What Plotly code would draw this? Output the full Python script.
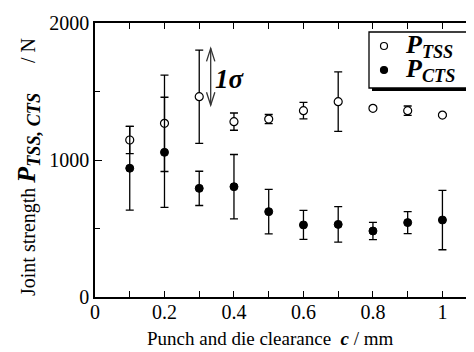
import plotly.graph_objects as go

clearance = [0.1, 0.2, 0.3, 0.4, 0.5, 0.6, 0.7, 0.8, 0.9, 1.0]
p_tss = [1146, 1268, 1462, 1280, 1299, 1360, 1426, 1377, 1360, 1328]
p_tss_sd = [100, 352, 340, 63, 33, 60, 217, 15, 34, 10]
p_cts = [940, 1056, 793, 805, 623, 526, 530, 482, 543, 562]
p_cts_sd = [306, 402, 125, 235, 162, 106, 130, 63, 80, 217]

series_names = ["TSS", "CTS"]
x_ticks = [0, 0.2, 0.4, 0.6, 0.8, 1]
x_ticklabels = ["0", "0.2", "0.4", "0.6", "0.8", "1"]
y_ticks = [0, 1000, 2000]

FONT = "Liberation Serif, Times New Roman, serif"
OFF = 8  # default page body margin
W, H = 474 - OFF, 352 - OFF
L, R, T, B = 95 - OFF, 1, 23 - OFF, 55
pw, ph = W - L - R, H - T - B

def px_x(p):
    return (p - OFF - L) / pw

def px_y(p):
    return (H - B - (p - OFF)) / ph

fig = go.Figure()

fig.add_trace(go.Scatter(
    x=clearance, y=p_tss, mode="markers", name=series_names[0],
    marker=dict(symbol="circle", size=8, color="white", line=dict(color="black", width=1.2)),
    error_y=dict(type="data", array=p_tss_sd, visible=True, color="black", thickness=1.3, width=4),
))
fig.add_trace(go.Scatter(
    x=clearance, y=p_cts, mode="markers", name=series_names[1],
    marker=dict(symbol="circle", size=8, color="black", line=dict(color="black", width=1)),
    error_y=dict(type="data", array=p_cts_sd, visible=True, color="black", thickness=1.3, width=4),
))
fig.add_trace(go.Scatter(x=[None], y=[None], yaxis="y2", showlegend=False))

axis_common = dict(showgrid=False, zeroline=False, showline=True, linecolor="black",
                   linewidth=1.5, ticks="inside", tickcolor="black", tickwidth=1.2,
                   tickfont=dict(family=FONT, size=20, color="black"))

fig.update_layout(
    width=W, height=H,
    margin=dict(l=L, r=R, t=T, b=B, pad=0),
    paper_bgcolor="white", plot_bgcolor="white",
    font=dict(family=FONT, color="black"),
    showlegend=False,
    xaxis=dict(range=[0, 1.088], tickvals=x_ticks, ticktext=x_ticklabels, ticklen=6,
               ticklabelstandoff=-4,
               minor=dict(dtick=0.1, tick0=0, ticks="inside", ticklen=6, tickcolor="black", tickwidth=1.2),
               mirror="ticks", **axis_common),
    yaxis=dict(range=[0, 2000], tickvals=y_ticks, ticklen=7,
               minor=dict(dtick=500, tick0=0, ticks="inside", ticklen=5, tickcolor="black", tickwidth=1.2),
               mirror=False, **axis_common),
    yaxis2=dict(range=[0, 2000], overlaying="y", side="right", showline=False, showgrid=False,
                zeroline=False, ticks="inside", tickvals=[1000], ticklen=6, tickcolor="black",
                tickwidth=1.2, showticklabels=False,
                minor=dict(dtick=500, tick0=0, ticks="inside", ticklen=4, tickcolor="black", tickwidth=1.2)),
)

# legend box with shadow
fig.add_shape(type="rect", xref="paper", yref="paper",
              x0=px_x(372), x1=px_x(471), y0=px_y(91), y1=px_y(35),
              fillcolor="black", line=dict(width=0), layer="above")
fig.add_shape(type="rect", xref="paper", yref="paper",
              x0=px_x(369), x1=px_x(468), y0=px_y(88), y1=px_y(32),
              fillcolor="white", line=dict(color="black", width=1.3), layer="above")
leg_rows = [46, 70]
leg_fill = ["white", "black"]
for name, yy, fc in zip(series_names, leg_rows, leg_fill):
    fig.add_shape(type="circle", xref="paper", yref="paper",
                  x0=px_x(380.5), x1=px_x(387.5), y0=px_y(yy + 3.5), y1=px_y(yy - 3.5),
                  fillcolor=fc, line=dict(color="black", width=1.2), layer="above")
    fig.add_annotation(x=px_x(403), y=px_y(yy), xref="paper", yref="paper",
                       text=f"<b><i>P</i></b><sub><b><i>{name}</i></b></sub>",
                       showarrow=False, xanchor="left", yanchor="middle",
                       font=dict(family=FONT, size=26, color="black"))

# 1 sigma double arrow
ax = 0.333
y_top, y_bot = 1815, 1400
dx, dy = 0.012, 95
fig.add_shape(type="line", xref="x", yref="y", x0=ax, x1=ax, y0=y_bot, y1=y_top,
              line=dict(color="#333", width=1.3))
fig.add_shape(type="path", xref="x", yref="y",
              path=f"M {ax-dx},{y_top-dy} L {ax},{y_top} L {ax+dx},{y_top-dy}",
              line=dict(color="#333", width=1.3))
fig.add_shape(type="path", xref="x", yref="y",
              path=f"M {ax-dx},{y_bot+dy} L {ax},{y_bot} L {ax+dx},{y_bot+dy}",
              line=dict(color="#333", width=1.3))
fig.add_annotation(x=0.34, y=1590, xref="x", yref="y", text="<b><i>1σ</i></b>",
                   showarrow=False, xanchor="left", yanchor="middle",
                   font=dict(family=FONT, size=27, color="black"))

# x axis title
fig.add_annotation(x=px_x(270), y=px_y(338), xref="paper", yref="paper",
                   text="Punch and die clearance  <b><i>c</i></b> / mm", showarrow=False,
                   xanchor="center", yanchor="middle",
                   font=dict(family=FONT, size=19, color="black"))
# y axis title
fig.add_annotation(x=px_x(28), y=px_y(167), xref="paper", yref="paper",
                   text=("Joint strength <span style='font-size:26px'><b><i>P</i></b>"
                         "<sub><b><i>TSS, CTS</i></b></sub></span>      / N"),
                   showarrow=False, textangle=-90, xanchor="center", yanchor="middle",
                   font=dict(family=FONT, size=20, color="black"))

fig.write_html("out.html")
